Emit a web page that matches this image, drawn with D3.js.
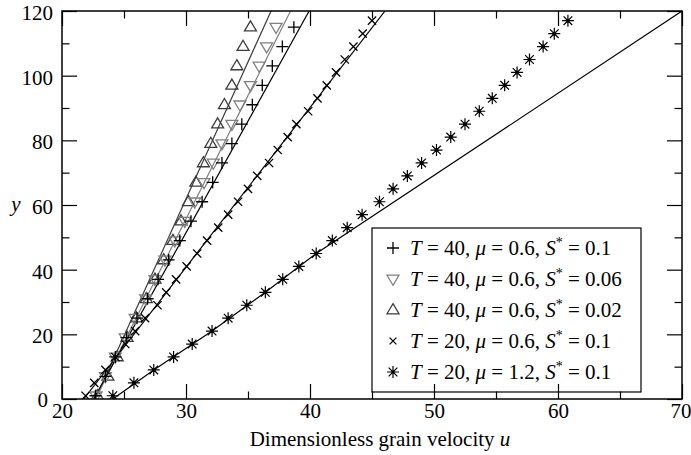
<!DOCTYPE html>
<html>
<head>
<meta charset="utf-8">
<script src="https://cdn.jsdelivr.net/npm/d3@7"></script>
<style>
  html, body { margin: 0; padding: 0; background: #fff; }
  svg, svg text { font-family: "Liberation Serif", "DejaVu Serif", "Times New Roman", serif !important; }
</style>
</head>
<body>
<svg id="chart" width="691" height="455"></svg>
<script>
// ---------------- data ----------------
const xMajorTicks = [20, 30, 40, 50, 60, 70];
const xMinorTicks = [25, 35, 45, 55, 65];
const yMajorTicks = [0, 20, 40, 60, 80, 100, 120];
const yMinorTicks = [10, 30, 50, 70, 90, 110];

// T = 40 series (y every 6)
const yT40 = [1, 7, 13, 19, 25, 31, 37, 43, 49, 55, 61, 67, 73, 79, 85, 91, 97, 103, 109, 115];
const uPlus = [22.7, 23.5, 24.3, 25.2, 26.05, 26.9, 27.75, 28.6, 29.5, 30.4, 31.3, 32.15, 32.9, 33.7, 34.5, 35.35, 36.15, 36.96, 37.77, 38.7];
const uDown = [22.75, 23.5, 24.3, 25.1, 25.9, 26.75, 27.5, 28.3, 29.1, 29.9, 30.7, 31.45, 32.2, 32.9, 33.7, 34.35, 35.2, 35.9, 36.5, 37.26];
const uUp   = [22.85, 23.7, 24.45, 25.25, 26.0, 26.8, 27.5, 28.2, 28.95, 29.6, 30.2, 30.8, 31.4, 32.0, 32.55, 33.1, 33.7, 34.1, 34.6, 35.2];

// T = 20 series (y every 4)
const yT20 = [1, 5, 9, 13, 17, 21, 25, 29, 33, 37, 41, 45, 49, 53, 57, 61, 65, 69, 73, 77, 81, 85, 89, 93, 97, 101, 105, 109, 113, 117];
const uCross = [21.9, 22.6, 23.5, 24.3, 25.1, 25.9, 26.7, 27.7, 28.4, 29.2, 30.05, 30.9, 31.7, 32.6, 33.4, 34.2, 35.0, 35.75, 36.7, 37.4, 38.2, 38.9, 39.85, 40.6, 41.35, 42.1, 42.8, 43.5, 44.25, 45.0];
const uStar  = [24.1, 25.8, 27.4, 29.0, 30.5, 32.1, 33.4, 34.9, 36.4, 37.8, 39.1, 40.5, 41.8, 43.0, 44.2, 45.6, 46.7, 47.85, 49.0, 50.2, 51.35, 52.5, 53.65, 54.7, 55.7, 56.7, 57.7, 58.8, 59.7, 60.8];

// model curves
const lineYs2 = [0, 120];
const linePlusU = [22.55, 39.93];
const lineDownU = [22.7, 38.43];
const lineUpU   = [22.7, 36.86];
const lineCrossU = [21.75, 46.05];
const lineStarY = [0, 9, 21, 33, 45, 120];
const lineStarU = [24.1, 27.4, 32.1, 36.4, 40.5, 70];

const legendLabels = [
  {sym: "plus",  T: "40", mu: "0.6", S: "0.1"},
  {sym: "down",  T: "40", mu: "0.6", S: "0.06"},
  {sym: "up",    T: "40", mu: "0.6", S: "0.02"},
  {sym: "cross", T: "20", mu: "0.6", S: "0.1"},
  {sym: "star",  T: "20", mu: "1.2", S: "0.1"}
];

// ---------------- layout ----------------
const W = 691, H = 455;
const FONT = '"Liberation Serif", "DejaVu Serif", serif';
const FS = "21px";
const m = {left: 62, right: 9, top: 11, bottom: 56};
const x = d3.scaleLinear().domain([20, 70]).range([m.left, W - m.right]);
const y = d3.scaleLinear().domain([0, 120]).range([H - m.bottom, m.top]);

const svg = d3.select("#chart").style("font-family", FONT);
const COL_UP = "#3c3c3c", COL_DOWN = "#808080";

svg.append("defs").append("clipPath").attr("id", "clip")
  .append("rect").attr("x", m.left).attr("y", m.top)
  .attr("width", W - m.left - m.right).attr("height", H - m.top - m.bottom);

function markerPath(type, s) {
  const h = s / 2;
  switch (type) {
    case "plus": return `M${-h},0H${h}M0,${-h}V${h}`;
    case "cross": { const c = h * 0.75; return `M${-c},${-c}L${c},${c}M${-c},${c}L${c},${-c}`; }
    case "up": { const r = h * 1.05; return `M0,${-r}L${r*0.95},${r*0.6}L${-r*0.95},${r*0.6}Z`; }
    case "down": { const r = h * 1.05; return `M0,${r}L${r*0.95},${-r*0.6}L${-r*0.95},${-r*0.6}Z`; }
    case "star": { const c = h * 0.72; return `M${-h},0H${h}M0,${-h}V${h}M${-c},${-c}L${c},${c}M${-c},${c}L${c},${-c}`; }
  }
}
const markerStyle = {
  plus:  {stroke: "#000", size: 12, w: 1.3},
  down:  {stroke: COL_DOWN, size: 12, w: 1.3},
  up:    {stroke: COL_UP, size: 12, w: 1.3},
  cross: {stroke: "#000", size: 11, w: 1.3},
  star:  {stroke: "#000", size: 12, w: 1.2}
};

// ---------------- lines ----------------
const plot = svg.append("g").attr("clip-path", "url(#clip)");
const lineGen = d3.line().x(d => x(d[0])).y(d => y(d[1]));
function drawLine(us, ys, color) {
  plot.append("path").datum(us.map((u, i) => [u, ys[i]]))
    .attr("d", lineGen).attr("fill", "none").attr("stroke", color).attr("stroke-width", 1.2);
}
drawLine(lineUpU, lineYs2, COL_UP);
drawLine(lineDownU, lineYs2, COL_DOWN);
drawLine(linePlusU, lineYs2, "#000");
drawLine(lineCrossU, lineYs2, "#000");
drawLine(lineStarU, lineStarY, "#000");

// ---------------- markers ----------------
function drawMarkers(us, ys, type) {
  const st = markerStyle[type];
  const g = plot.append("g");
  g.selectAll("path").data(us.map((u, i) => [u, ys[i]])).join("path")
    .attr("transform", d => `translate(${x(d[0])},${y(d[1])})`)
    .attr("d", markerPath(type, st.size))
    .attr("fill", "none").attr("stroke", st.stroke).attr("stroke-width", st.w);
  if (type === "star") {
    g.selectAll("circle").data(us.map((u, i) => [u, ys[i]])).join("circle")
      .attr("cx", d => x(d[0])).attr("cy", d => y(d[1])).attr("r", 2).attr("fill", "#000");
  }
}
drawMarkers(uUp, yT40, "up");
drawMarkers(uDown, yT40, "down");
drawMarkers(uPlus, yT40, "plus");
drawMarkers(uCross, yT20, "cross");
drawMarkers(uStar, yT20, "star");

// ---------------- legend ----------------
const lg = svg.append("g");
const LX = 372, LY = 228, LW = 269, LH = 164;
lg.append("rect").attr("x", LX).attr("y", LY).attr("width", LW).attr("height", LH)
  .attr("fill", "#fff").attr("stroke", "#000").attr("stroke-width", 1.2);
legendLabels.forEach((d, i) => {
  const cy = LY + 20 + i * 31;
  const st = markerStyle[d.sym];
  lg.append("path").attr("transform", `translate(${LX + 21},${cy})`)
    .attr("d", markerPath(d.sym, d.sym === "cross" ? 9 : 12))
    .attr("fill", "none").attr("stroke", st.stroke).attr("stroke-width", st.w);
  if (d.sym === "star") lg.append("circle").attr("cx", LX + 21).attr("cy", cy).attr("r", 1.3).attr("fill", "#000");
  const t = lg.append("text").attr("x", LX + 38).attr("y", cy + 7)
    .style("font-family", FONT).style("font-size", FS);
  t.append("tspan").attr("font-style", "italic").text("T");
  t.append("tspan").text(` = ${d.T}, `);
  t.append("tspan").attr("font-style", "italic").text("μ");
  t.append("tspan").text(` = ${d.mu}, `);
  t.append("tspan").attr("font-style", "italic").text("S");
  t.append("tspan").style("font-size", "14px").attr("dy", -8).text("*");
  t.append("tspan").attr("dy", 8).text(` = ${d.S}`);
});

// ---------------- axes ----------------
const MAJ = 15, MIN = 7.5;
function styleAxis(g) {
  g.attr("font-family", null).attr("font-size", null);
  g.select(".domain").remove();
  g.selectAll(".tick line").attr("stroke", "#000").attr("stroke-width", 1.2);
  g.selectAll("text").style("font-family", FONT).style("font-size", FS).attr("fill", "#000");
}
const bottom = H - m.bottom, right = W - m.right;
const bottomAx = svg.append("g").attr("transform", `translate(0,${bottom})`)
  .call(d3.axisBottom(x).tickValues(xMajorTicks).tickSize(-MAJ).tickPadding(4).tickFormat(d3.format("d"))).call(styleAxis);
bottomAx.selectAll(".tick").filter(d => d === 70).select("text").attr("text-anchor", "end").attr("dx", 9);
svg.append("g").attr("transform", `translate(0,${bottom})`)
  .call(d3.axisBottom(x).tickValues(xMinorTicks).tickSize(-MIN).tickFormat("")).call(styleAxis);
svg.append("g").attr("transform", `translate(0,${m.top})`)
  .call(d3.axisTop(x).tickValues(xMajorTicks).tickSize(-MAJ).tickFormat("")).call(styleAxis);
svg.append("g").attr("transform", `translate(0,${m.top})`)
  .call(d3.axisTop(x).tickValues(xMinorTicks).tickSize(-MIN).tickFormat("")).call(styleAxis);
const leftAx = svg.append("g").attr("transform", `translate(${m.left},0)`)
  .call(d3.axisLeft(y).tickValues(yMajorTicks).tickSize(-MAJ).tickPadding(9).tickFormat(d3.format("d"))).call(styleAxis);
leftAx.selectAll(".tick text").attr("dy", "0.4em");
leftAx.selectAll(".tick").filter(d => d === 0).select("text").attr("dx", -5).attr("dy", "0.35em");
svg.append("g").attr("transform", `translate(${m.left},0)`)
  .call(d3.axisLeft(y).tickValues(yMinorTicks).tickSize(-MIN).tickFormat("")).call(styleAxis);
svg.append("g").attr("transform", `translate(${right},0)`)
  .call(d3.axisRight(y).tickValues(yMajorTicks).tickSize(-MAJ).tickFormat("")).call(styleAxis);
svg.append("g").attr("transform", `translate(${right},0)`)
  .call(d3.axisRight(y).tickValues(yMinorTicks).tickSize(-MIN).tickFormat("")).call(styleAxis);

svg.append("rect").attr("x", m.left).attr("y", m.top)
  .attr("width", right - m.left).attr("height", bottom - m.top)
  .attr("fill", "none").attr("stroke", "#000").attr("stroke-width", 1.5);

const xt = svg.append("text").attr("x", (m.left + right) / 2 + 8).attr("y", 446)
  .attr("text-anchor", "middle").style("font-family", FONT).style("font-size", FS);
xt.append("tspan").text("Dimensionless grain velocity ");
xt.append("tspan").attr("font-style", "italic").text("u");
svg.append("text").attr("x", 16).attr("y", 211).attr("text-anchor", "middle")
  .style("font-family", FONT).style("font-size", FS).attr("font-style", "italic").text("y");
</script>
</body>
</html>
